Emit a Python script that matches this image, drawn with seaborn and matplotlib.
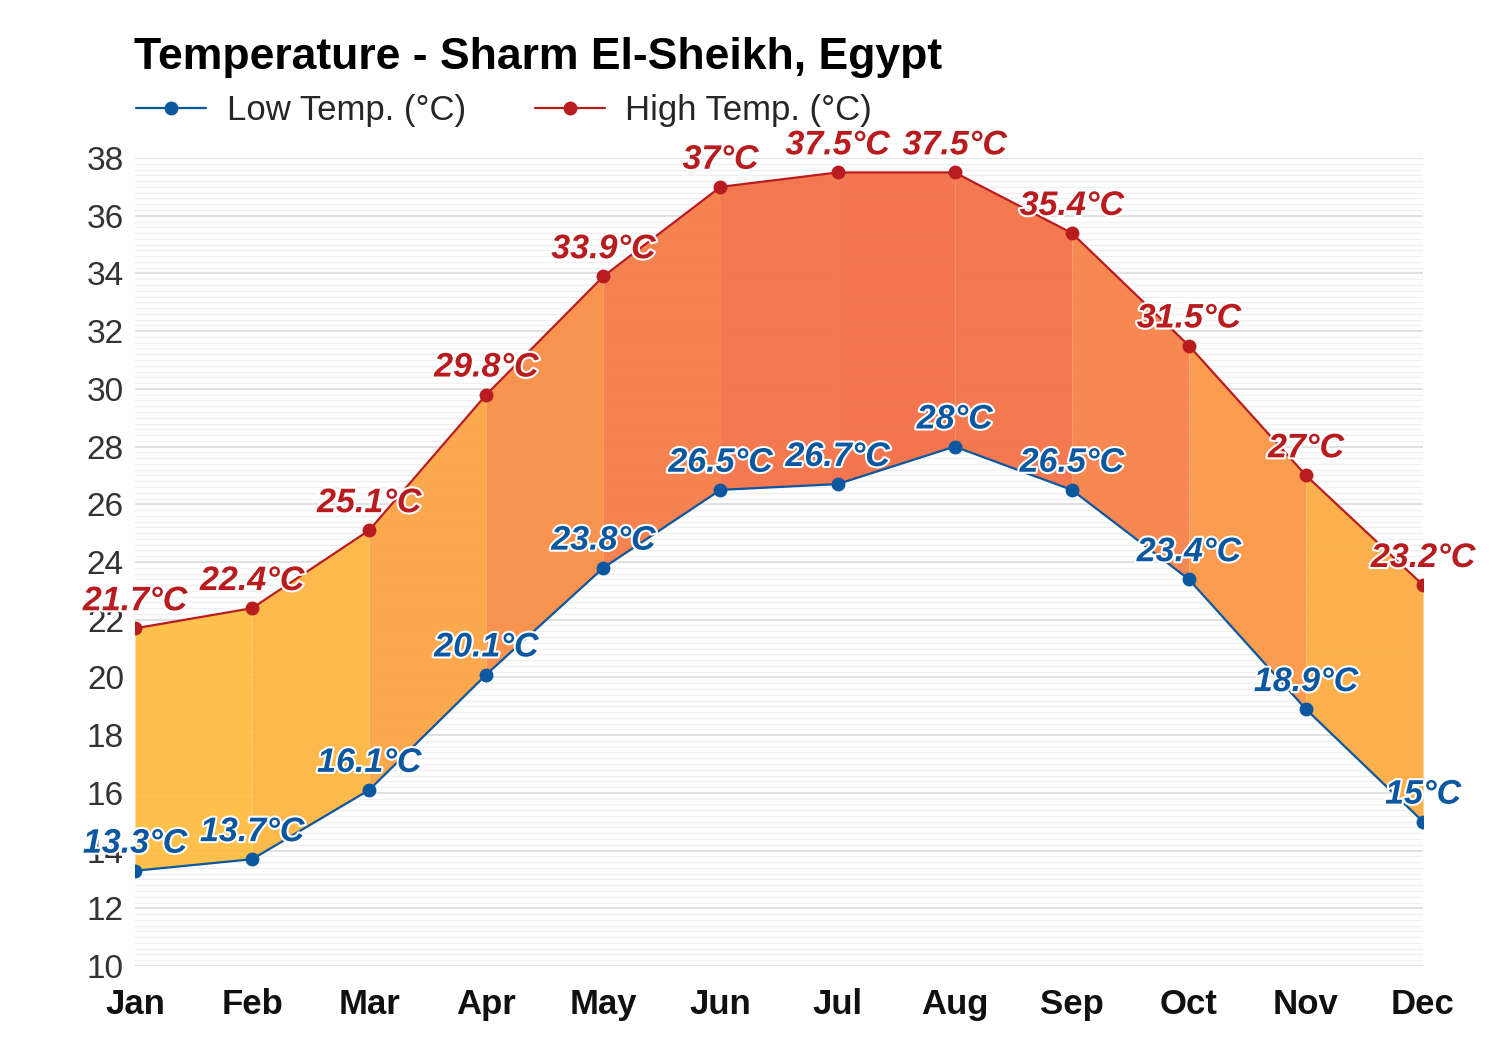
import numpy as np
import pandas as pd
import matplotlib
matplotlib.use("Agg")
import matplotlib.pyplot as plt
import matplotlib.patheffects as pe
from matplotlib.colors import LinearSegmentedColormap
from matplotlib.ticker import MultipleLocator
import seaborn as sns

months = ["Jan", "Feb", "Mar", "Apr", "May", "Jun",
          "Jul", "Aug", "Sep", "Oct", "Nov", "Dec"]
low_temp = [13.3, 13.7, 16.1, 20.1, 23.8, 26.5, 26.7, 28.0, 26.5, 23.4, 18.9, 15.0]
high_temp = [21.7, 22.4, 25.1, 29.8, 33.9, 37.0, 37.5, 37.5, 35.4, 31.5, 27.0, 23.2]

LOW_COLOR = "#0b57a0"
HIGH_COLOR = "#b81c1f"

sns.set_theme(style="white")
plt.rcParams["font.family"] = ["Liberation Sans", "DejaVu Sans"]

df = pd.DataFrame({"x": np.arange(len(months)), "low": low_temp, "high": high_temp})

fig = plt.figure(figsize=(15, 10.5), dpi=100)
ax = fig.add_axes([0.09, 0.08, 0.8587, 0.7695])

# grid
ax.yaxis.set_major_locator(MultipleLocator(2))
ax.yaxis.set_minor_locator(MultipleLocator(0.2))
ax.grid(which="major", axis="y", color="#dcdcdc", lw=1.2, zorder=0)
ax.grid(which="minor", axis="y", color="#f0f0f0", lw=1.0, zorder=0)
ax.set_axisbelow(True)

# segment fills coloured by mean temperature
cmap = LinearSegmentedColormap.from_list("heat", ["#fec045", "#fb9a4a", "#f3724b"])
for i in range(len(df) - 1):
    seg = df.iloc[i:i + 2]
    m = (seg["low"].sum() + seg["high"].sum()) / 4
    c = cmap(np.clip((m - 17.5) / (32.5 - 17.5), 0, 1))
    ax.fill_between(seg["x"], seg["low"], seg["high"], color=c, alpha=0.97,
                    lw=0, zorder=1)

sns.lineplot(data=df, x="x", y="low", ax=ax, color=LOW_COLOR, lw=1.6,
             marker="o", markersize=10, markeredgewidth=0, label="Low Temp. (°C)",
             zorder=3)
sns.lineplot(data=df, x="x", y="high", ax=ax, color=HIGH_COLOR, lw=1.6,
             marker="o", markersize=10, markeredgewidth=0, label="High Temp. (°C)",
             zorder=3)

outline = [pe.withStroke(linewidth=3, foreground="white")]
for x, lo, hi in zip(df["x"], df["low"], df["high"]):
    for v, col in ((lo, LOW_COLOR), (hi, HIGH_COLOR)):
        ax.annotate(f"{v:g}°C", (x, v), xytext=(0, 8), textcoords="offset points",
                    ha="center", va="bottom", fontsize=24.5, fontweight="bold",
                    fontstyle="italic", color=col, path_effects=outline, zorder=5)

ax.set_xlim(0, 11)
ax.set_ylim(10, 38)
ax.set_xticks(df["x"])
ax.set_xticklabels(months, fontsize=25, fontweight="bold", color="#111111")
ax.tick_params(axis="y", labelsize=24, labelcolor="#333333", length=0, pad=8)
ax.tick_params(axis="x", length=0, pad=16)
ax.set_xlabel("")
ax.set_ylabel("")
sns.despine(ax=ax, left=True, bottom=True)

ax.get_legend().remove()
handles, labels = ax.get_legend_handles_labels()
fig.legend(handles, labels, loc="upper left", bbox_to_anchor=(0.07, 0.94),
           ncol=2, frameon=False, fontsize=25, handlelength=2.0,
           columnspacing=2.0, handletextpad=0.6)

fig.text(0.089, 0.965, "Temperature - Sharm El-Sheikh, Egypt", fontsize=32,
         fontweight="bold", ha="left", va="top", color="#000000")

fig.savefig("out.png", dpi=100, facecolor="white")
